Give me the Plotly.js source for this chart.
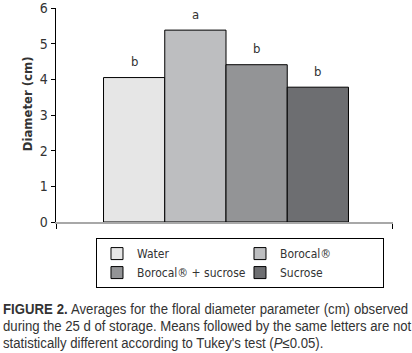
<!DOCTYPE html>
<html>
<head>
<meta charset="utf-8">
<script src="https://cdn.plot.ly/plotly-3.0.1.min.js"></script>
<style>
  body { margin: 0; background: #fff; }
  #plot { position: absolute; left: 0; top: -1px; width: 412px; height: 293px; }
  #caption {
    position: absolute; left: 3px; top: 301px; width: 431px;
    transform: scaleX(0.94); transform-origin: 0 0;
    font-family: "Liberation Sans", Arial, sans-serif;
    font-size: 14px; line-height: 17px; color: #333;
  }
  #caption div { text-align: justify; text-align-last: justify; white-space: nowrap; }
  #caption div.last { text-align-last: left; }
</style>
</head>
<body>
<div id="plot"></div>
<div id="caption">
  <div><b>FIGURE 2.</b> Averages for the floral diameter parameter (cm) observed</div>
  <div>during the 25 d of storage. Means followed by the same letters are not</div>
  <div class="last">statistically different according to Tukey's test (<i>P</i>&#8804;0.05).</div>
</div>
<script>
  // treatments, means and Tukey letters
  const treatments = ['Water', 'Borocal®', 'Borocal® + sucrose', 'Sucrose'];
  const diameters = [4.05, 5.38, 4.41, 3.78];
  const letters = ['b', 'a', 'b', 'b'];
  const colors = ['#e6e6e6', '#bdbec0', '#939496', '#6d6e71'];
  const yTicks = [0, 1, 2, 3, 4, 5, 6];

  const font = '"DejaVu Sans Condensed", "Liberation Sans", sans-serif';
  const xr = [-1.276, 4.227];

  const data = treatments.map((name, i) => ({
    type: 'bar',
    name: name,
    x: [i],
    y: [diameters[i]],
    width: 1,
    marker: { color: colors[i], line: { color: '#000', width: 1 } },
    hoverinfo: 'skip'
  }));

  const annotations = letters.map((t, i) => ({
    x: i, y: diameters[i], text: t, showarrow: false,
    xanchor: 'center', yanchor: 'middle', yshift: 16,
    font: { family: font, size: 13, color: '#333' }
  }));

  annotations.push({
    xref: 'paper', yref: 'paper', x: -0.086, y: 0.55,
    xanchor: 'center', yanchor: 'middle',
    text: '<b>Diameter (cm)</b>', textangle: -90, showarrow: false,
    font: { family: font, size: 13, color: '#333' }
  });

  const layout = {
    width: 412, height: 293,
    margin: { l: 56, r: 19, t: 9, b: 70 },
    paper_bgcolor: '#fff', plot_bgcolor: '#fff',
    barmode: 'overlay',
    font: { family: font, size: 13, color: '#333' },
    showlegend: true,
    legend: {
      orientation: 'h', xref: 'container', x: 0.233, xanchor: 'left',
      yref: 'container', y: 0.184, yanchor: 'top',
      bordercolor: '#000', borderwidth: 1, entrywidth: 98,
      font: { family: font, size: 12, color: '#333' },
      traceorder: 'normal'
    },
    xaxis: {
      range: xr, showgrid: false, zeroline: false,
      showline: true, linecolor: '#a8a8a8', linewidth: 2,
      tickvals: [xr[0] + 0.005, xr[1] - 0.005], showticklabels: false,
      ticks: 'outside', ticklen: 5, tickcolor: '#000', tickwidth: 1.5
    },
    yaxis: {
      range: [0, 6], tickvals: yTicks, showgrid: false, zeroline: false,
      showline: true, linecolor: '#000', linewidth: 1.5,
      ticks: 'outside', ticklen: 4, tickcolor: '#000',
      tickfont: { family: font, size: 14, color: '#333' }
    },
    annotations: annotations
  };

  Plotly.newPlot('plot', data, layout, { displayModeBar: false, staticPlot: true });
</script>
</body>
</html>
